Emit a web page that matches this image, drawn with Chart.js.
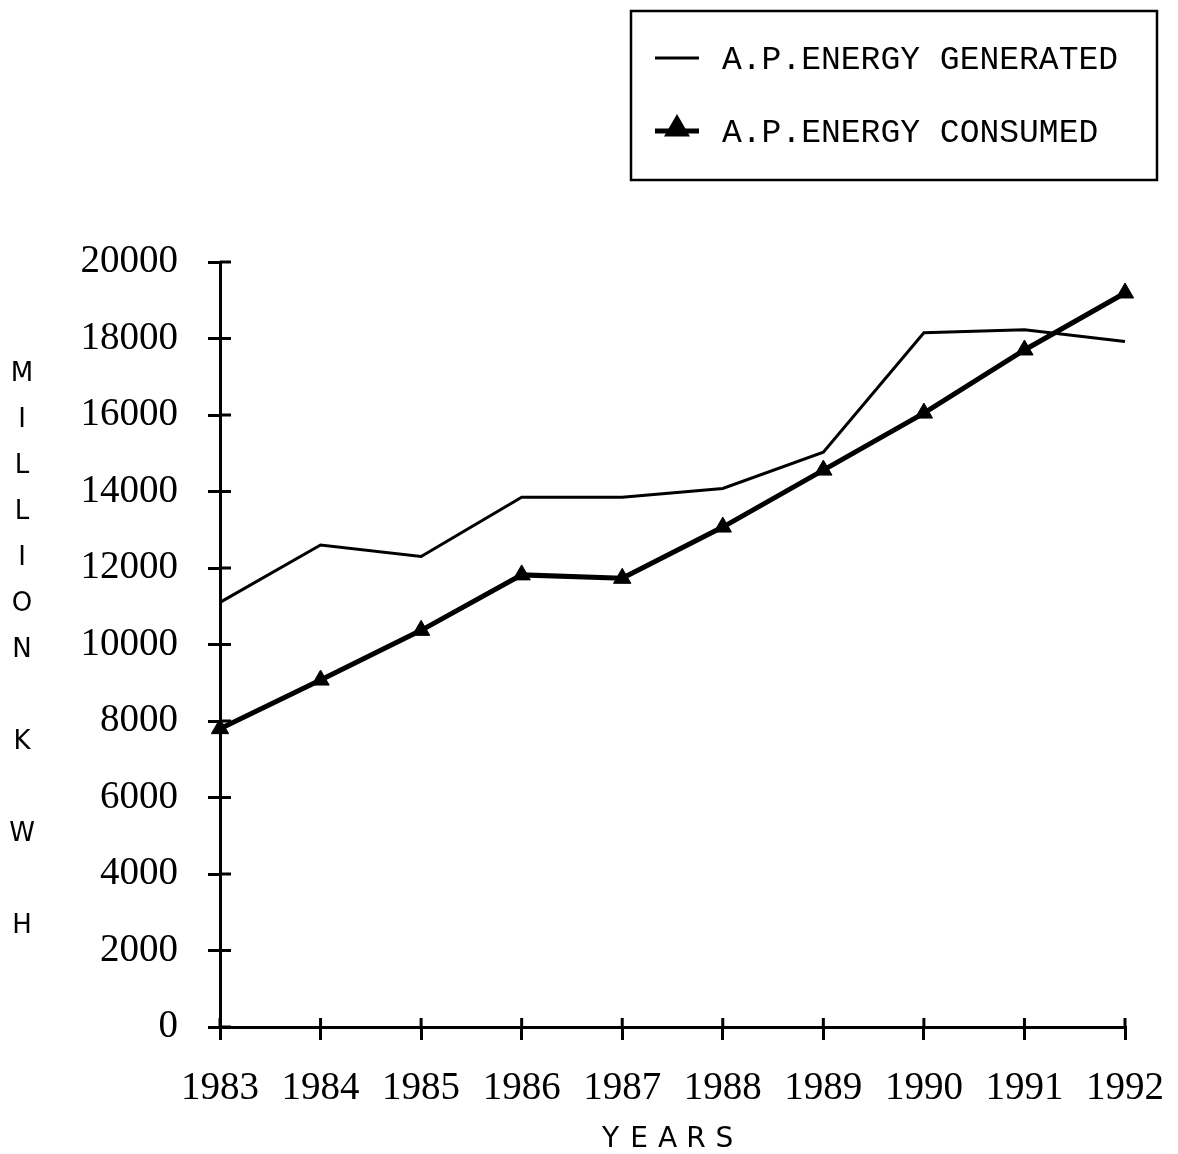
<!DOCTYPE html>
<html>
<head>
<meta charset="utf-8">
<script src="https://cdn.jsdelivr.net/npm/chart.js@4"></script>
<style>
  html, body { margin: 0; padding: 0; background: #fff; }
  #wrap { width: 1178px; height: 1154px; position: relative; }
</style>
</head>
<body>
<div id="wrap"><canvas id="c" width="1178" height="1154"></canvas></div>
<script>
const years = ['1983','1984','1985','1986','1987','1988','1989','1990','1991','1992'];
const generated = [11100, 12600, 12300, 13850, 13850, 14080, 15030, 18150, 18230, 17920];
const consumed  = [7800, 9070, 10370, 11820, 11730, 13070, 14560, 16050, 17700, 19190];
const seriesNames = ['A.P.ENERGY GENERATED', 'A.P.ENERGY CONSUMED'];
const yTicks = [0, 2000, 4000, 6000, 8000, 10000, 12000, 14000, 16000, 18000, 20000];
const yTitle = 'MILLION K W H';
const xTitle = 'YEARS';

const tickFont = { family: '"Liberation Serif", "Times New Roman", serif', size: 39 };
const legendFontFamily = '"Liberation Mono", "DejaVu Sans Mono", monospace';
const titleFontFamily = '"DejaVu Sans", "Liberation Sans", sans-serif';

const decorPlugin = {
  id: 'decor',
  afterDraw(chart) {
    const ctx = chart.ctx;
    const area = chart.chartArea;
    const xs = chart.scales.x, ys = chart.scales.y;
    ctx.save();
    // inner tick stubs (ticks cross the axes)
    ctx.strokeStyle = '#000';
    ctx.lineWidth = 3;
    ys.ticks.forEach((t, i) => {
      const py = ys.getPixelForTick(i);
      ctx.beginPath(); ctx.moveTo(area.left, py); ctx.lineTo(area.left + 11, py); ctx.stroke();
    });
    xs.ticks.forEach((t, i) => {
      const px = xs.getPixelForTick(i);
      ctx.beginPath(); ctx.moveTo(px, area.bottom); ctx.lineTo(px, area.bottom - 9); ctx.stroke();
    });
    // vertical y title, one letter per row
    ctx.fillStyle = '#000';
    ctx.font = '26px ' + titleFontFamily;
    ctx.textAlign = 'center';
    ctx.textBaseline = 'middle';
    const step = 46;
    const chars = yTitle.split('');
    const midY = (area.top + area.bottom) / 2 + 6;
    const startY = midY - (chars.length - 1) * step / 2;
    chars.forEach((ch, i) => { if (ch !== ' ') ctx.fillText(ch, 22, startY + i * step); });
    // x title, letter spaced
    ctx.font = '28px ' + titleFontFamily;
    const xc = (area.left + area.right) / 2 - 5;
    const xchars = xTitle.split('');
    const xstep = 28.5;
    xchars.forEach((ch, i) => ctx.fillText(ch, xc + (i - (xchars.length - 1) / 2) * xstep, 1140));
    // legend box
    ctx.lineWidth = 2.5;
    ctx.strokeRect(631, 11, 526, 169);
    ctx.font = '33px ' + legendFontFamily;
    ctx.textAlign = 'left';
    const rows = [58, 131];
    chart.data.datasets.forEach((ds, i) => {
      const y = rows[i];
      ctx.strokeStyle = '#000';
      ctx.lineWidth = ds.borderWidth;
      ctx.beginPath(); ctx.moveTo(655, y); ctx.lineTo(699, y); ctx.stroke();
      if (ds.pointRadius > 0) {
        ctx.fillStyle = '#000';
        Chart.helpers.drawPoint(ctx, { pointStyle: 'triangle', radius: ds.pointRadius, borderWidth: 1 }, 677, y - 2);
        ctx.fill();
      }
      ctx.fillStyle = '#000';
      ctx.fillText(ds.label, 722, y + 2);
    });
    ctx.restore();
  }
};

new Chart(document.getElementById('c'), {
  type: 'line',
  data: {
    labels: years,
    datasets: [
      {
        label: seriesNames[0],
        data: generated,
        borderColor: '#000',
        borderWidth: 3,
        pointRadius: 0,
        tension: 0,
        clip: false
      },
      {
        label: seriesNames[1],
        data: consumed,
        borderColor: '#000',
        backgroundColor: '#000',
        borderWidth: 5,
        pointStyle: 'triangle',
        pointRadius: 10,
        pointBorderWidth: 1,
        pointBackgroundColor: '#000',
        pointBorderColor: '#000',
        tension: 0,
        clip: false
      }
    ]
  },
  options: {
    responsive: false,
    animation: false,
    devicePixelRatio: 1,
    layout: { autoPadding: false, padding: { left: 0, top: 262, right: 53, bottom: 0 } },
    plugins: { legend: { display: false }, tooltip: { enabled: false } },
    scales: {
      x: {
        type: 'category',
        offset: false,
        grid: { drawOnChartArea: false, tickLength: 13, color: '#000', lineWidth: 3 },
        border: { color: '#000', width: 3 },
        ticks: { color: '#000', font: tickFont, padding: 25, maxRotation: 0, autoSkip: false },
        afterFit(scale) { scale.height = 127; scale.paddingLeft = 0; scale.paddingRight = 0; }
      },
      y: {
        min: 0,
        max: 20000,
        afterBuildTicks(scale) { scale.ticks = yTicks.map(v => ({ value: v })); },
        grid: { drawOnChartArea: false, tickLength: 12, color: '#000', lineWidth: 3 },
        border: { color: '#000', width: 3 },
        ticks: { color: '#000', font: tickFont, padding: 30, callback: (v) => String(v) },
        afterFit(scale) { scale.width = 220; scale.paddingTop = 0; scale.paddingBottom = 0; }
      }
    }
  },
  plugins: [decorPlugin]
});
</script>
</body>
</html>
